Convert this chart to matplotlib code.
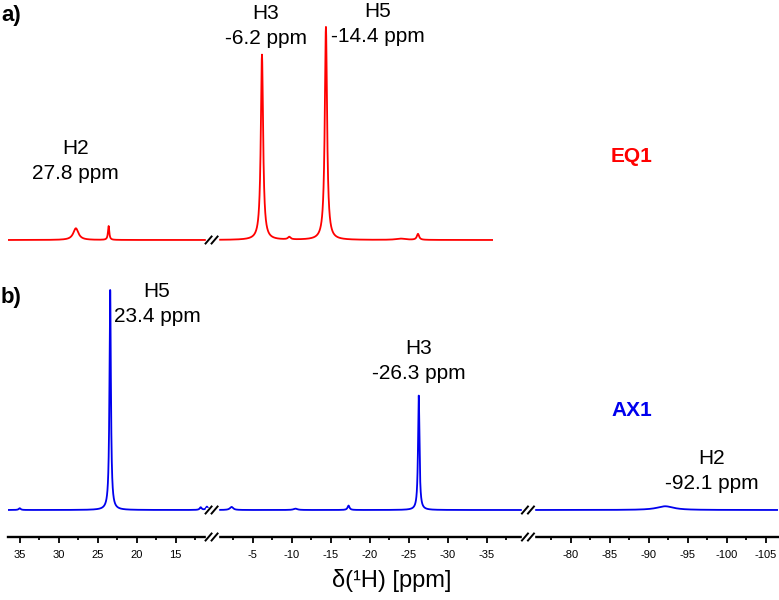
import numpy as np
import matplotlib
matplotlib.use('Agg')
import matplotlib.pyplot as plt

plt.rcParams['font.family'] = ['Liberation Sans', 'DejaVu Sans']

# ---- data (ppm, relative height, FWHM in ppm) ----
eq1_pos = [27.8, 23.6, -6.2, -9.7, -14.4, -26.2, -24.0]
eq1_height = [0.055, 0.065, 0.87, 0.012, 1.0, 0.028, 0.006]
eq1_width = [0.8, 0.2, 0.35, 0.4, 0.35, 0.35, 1.5]

ax1_pos = [23.4, 11.8, 11.0, -2.3, -17.3, -26.3, -92.1, 35.0, -10.5]
ax1_height = [1.0, 0.012, 0.015, 0.014, 0.02, 0.52, 0.017, 0.008, 0.006]
ax1_width = [0.22, 0.3, 0.3, 0.5, 0.3, 0.22, 2.6, 0.3, 0.6]

# axis segments (left ppm, right ppm)
bottom_segments = [(36.5, 10.4), (0.26, -40.3), (-74.5, -106.5)]
top_segments = [(36.5, 10.4), (0.26, -35.8)]
bottom_ticks = [[35, 30, 25, 20, 15], [-5, -10, -15, -20, -25, -30, -35],
                [-80, -85, -90, -95, -100, -105]]
minor_ticks = [[35, 32.5, 30, 27.5, 25, 22.5, 20, 17.5, 15, 12.5],
               [-2.5, -7.5, -12.5, -17.5, -22.5, -27.5, -32.5, -37.5],
               [-77.5, -82.5, -87.5, -92.5, -97.5, -102.5]]


def spectrum(x, pos, height, width):
    y = np.zeros_like(x)
    for p, h, w in zip(pos, height, width):
        y += h * (w / 2) ** 2 / ((x - p) ** 2 + (w / 2) ** 2)
    return y


W, H = 779, 600
fig = plt.figure(figsize=(W / 100, H / 100), dpi=100)
px_per_ppm = 7.8


def make_row(segments, x0, y_top, y_bot):
    axes = []
    x = x0
    for left, right in segments:
        w = (left - right) * px_per_ppm
        ax = fig.add_axes([x / W, 1 - y_bot / H, w / W, (y_bot - y_top) / H])
        ax.set_xlim(left, right)
        ax.patch.set_alpha(0)
        for s in ['top', 'right', 'left']:
            ax.spines[s].set_visible(False)
        ax.set_yticks([])
        axes.append(ax)
        x += w
    return axes


def draw_break(ax, ypix):
    # "//" at the left edge of ax, ypix counted from the top of the figure
    xpix = ax.get_position().x0 * W
    fig.patches.append(plt.Rectangle(((xpix - 6) / W, 1 - (ypix + 2) / H), 12 / W, 4 / H,
                                     transform=fig.transFigure, color='white', zorder=3))
    for dx in (-3, 3):
        fig.lines.append(plt.Line2D([(xpix + dx - 3) / W, (xpix + dx + 3) / W],
                                    [1 - (ypix + 3.5) / H, 1 - (ypix - 3.5) / H],
                                    transform=fig.transFigure, color='black',
                                    lw=1.4, zorder=5))


# ---- top spectrum (EQ1) ----
top_axes = make_row(top_segments, 8, 20, 250)
for ax, (left, right) in zip(top_axes, top_segments):
    ppm = np.linspace(left, right, 6000)
    ax.plot(ppm, spectrum(ppm, eq1_pos, eq1_height, eq1_width), color='red', lw=1.3)
    ax.set_ylim(-10 / 213, 220 / 213)
    ax.spines['bottom'].set_visible(False)
    ax.set_xticks([])

# ---- bottom spectrum (AX1) ----
bot_axes = make_row(bottom_segments, 8, 285, 537)
for ax, (left, right), tk, mt in zip(bot_axes, bottom_segments, bottom_ticks, minor_ticks):
    ppm = np.linspace(left, right, 8000)
    ax.plot(ppm, spectrum(ppm, ax1_pos, ax1_height, ax1_width), color='#0000ee', lw=1.3)
    ax.set_ylim(-27 / 220, 225 / 220)
    ax.spines['bottom'].set_linewidth(1.7)
    ax.set_xticks(tk)
    ax.set_xticklabels([str(t) for t in tk])
    ax.set_xticks(mt, minor=True)
    ax.tick_params(axis='x', which='major', length=4, width=1.3, pad=5, labelsize=8)
    ax.tick_params(axis='x', which='minor', length=2, width=1.3)
    for lab in ax.get_xticklabels():
        lab.set_family(['Liberation Sans Narrow', 'Liberation Sans', 'DejaVu Sans'])

fig.canvas.draw()
for ax in top_axes[1:]:
    draw_break(ax, 240)
for ax in bot_axes[1:]:
    draw_break(ax, 510)
    draw_break(ax, 537)

# ---- peak labels ----
lbl = dict(ha='center', va='center', fontsize=15, linespacing=1.45)
top_axes[0].text(27.8, (240 - 161) / 213, 'H2\n27.8 ppm', **lbl)
top_axes[1].text(-6.7, (240 - 26) / 213, 'H3\n-6.2 ppm', clip_on=False, **lbl)
top_axes[1].text(-21.0, (240 - 24) / 213, 'H5\n-14.4 ppm', clip_on=False, **lbl)
bot_axes[0].text(17.4, (510 - 304) / 220, 'H5\n23.4 ppm', **lbl)
bot_axes[1].text(-26.3, (510 - 361) / 220, 'H3\n-26.3 ppm', **lbl)
bot_axes[2].text(-98.1, (510 - 471) / 220, 'H2\n-92.1 ppm', **lbl)

fig.text(632 / W, 1 - 157 / H, 'EQ1', color='red', fontsize=15, fontweight='bold',
         ha='center', va='center')
fig.text(632 / W, 1 - 410 / H, 'AX1', color='#0000ee', fontsize=15, fontweight='bold',
         ha='center', va='center')
fig.text(1 / W, 1 - 16 / H, 'a)', fontsize=16, fontweight='bold', ha='left', va='center')
fig.text(1 / W, 1 - 297 / H, 'b)', fontsize=16, fontweight='bold', ha='left', va='center')
fig.text(392 / W, 1 - 580 / H, 'δ(¹H) [ppm]', fontsize=17, ha='center', va='center')

fig.savefig('out.png', dpi=100)
